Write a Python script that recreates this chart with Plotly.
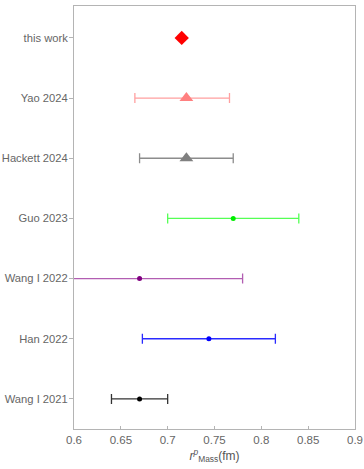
import plotly.graph_objects as go

# Proton mass radius determinations
labels = ["Wang I 2021", "Han 2022", "Wang I 2022", "Guo 2023",
          "Hackett 2024", "Yao 2024", "this work"]
central = [0.67, 0.744, 0.67, 0.77, 0.72, 0.72, 0.715]
err_minus = [0.03, 0.071, 0.11, 0.07, 0.05, 0.055, 0.0]
err_plus = [0.03, 0.071, 0.11, 0.07, 0.05, 0.046, 0.0]
marker_colors = ["#000000", "#0000ff", "#800080", "#00ee00",
                 "#808080", "#ff8080", "#ff0000"]
bar_colors = ["#333333", "#2a2aff", "#b25eb2", "#55ff55",
              "#8c8c8c", "#ffa0a0", "#ff0000"]
symbols = ["circle", "circle", "circle", "circle",
           "triangle-up", "triangle-up", "diamond"]
sizes = [5, 5, 5, 5, 12, 12, 11]
x_ticks = [0.6, 0.65, 0.7, 0.75, 0.8, 0.85, 0.9]
x_ticktext = ["0.6", "0.65", "0.7", "0.75", "0.8", "0.85", "0.9"]

fig = go.Figure()
for i, name in enumerate(labels):
    has_err = err_minus[i] > 0 or err_plus[i] > 0
    fig.add_trace(go.Scatter(
        x=[central[i]], y=[i], mode="markers", name=name,
        marker=dict(symbol=symbols[i], size=sizes[i], color=marker_colors[i]),
        error_x=dict(type="data", symmetric=False,
                     array=[err_plus[i]], arrayminus=[err_minus[i]],
                     color=bar_colors[i], thickness=1.3, width=5,
                     visible=has_err),
        showlegend=False,
    ))

frame = "#b4b4b4"
font_family = "Liberation Sans, Arial"
fig.update_xaxes(
    range=[0.6, 0.9], tickvals=x_ticks, ticktext=x_ticktext,
    ticks="inside", ticklen=3, tickcolor=frame,
    showline=True, linecolor=frame, linewidth=1, mirror=True,
    showgrid=False, zeroline=False, automargin=False,
    tickfont=dict(family=font_family, size=11.5, color="#666666"),
    title=dict(text="<i>r</i><sup><i>p</i></sup><sub>Mass</sub>(fm)",
               font=dict(family=font_family, size=12, color="#555555"),
               standoff=6),
)
fig.update_yaxes(
    range=[-0.5, 6.53], tickvals=list(range(len(labels))), ticktext=labels,
    ticks="outside", ticklen=4, tickcolor=frame, ticklabelstandoff=-1,
    showline=True, linecolor=frame, linewidth=1, mirror=True,
    showgrid=False, zeroline=False, automargin=False,
    tickfont=dict(family=font_family, size=11.2, color="#666666"),
)
fig.update_layout(
    width=364, height=469,
    margin=dict(l=74, r=9, t=6, b=40),
    paper_bgcolor="white", plot_bgcolor="white",
)
fig.write_html("out.html")
